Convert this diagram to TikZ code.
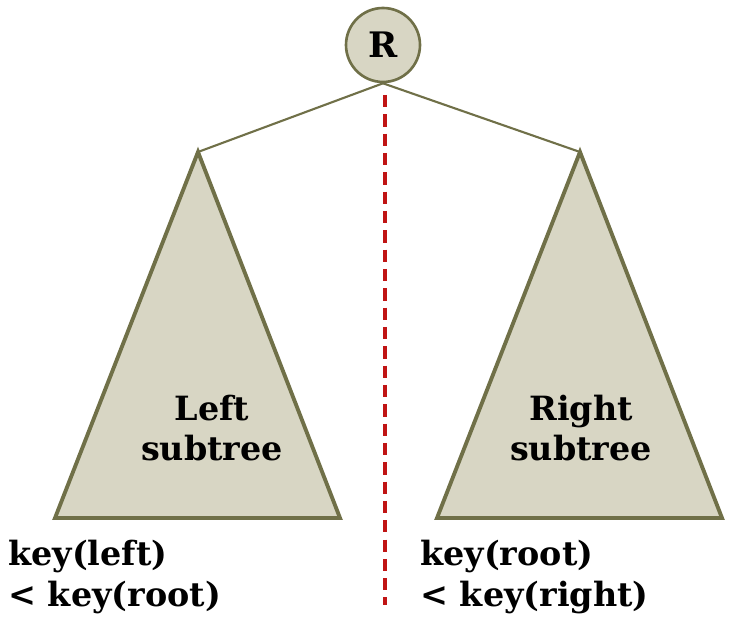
\documentclass[tikz,border=0pt]{standalone}
\usepackage{fontspec}
\setmainfont{DejaVu Serif}
\usetikzlibrary{positioning}
\definecolor{treefill}{RGB}{216, 214, 196}
\definecolor{treeline}{RGB}{112, 112, 72}
\definecolor{splitred}{RGB}{192, 20, 20}
\tikzset{
  subtree/.style={draw=treeline, fill=treefill, line width=2.2pt, line join=miter},
  label/.style={font=\bfseries\fontsize{19}{23}\selectfont, align=left, anchor=north west, inner sep=0pt},
  inlabel/.style={font=\bfseries\fontsize{19}{23}\selectfont, align=center}
}
\begin{document}
\begin{tikzpicture}[x=0.02cm, y=-0.02cm]
\useasboundingbox (0,0) rectangle (743,644);
% split line
\draw[splitred, line width=1.8pt, dash pattern=on 7pt off 4pt] (385,95) -- (385,605);
% root
\node[circle, draw=treeline, fill=treefill, line width=1.5pt, minimum size=1.48cm,
      font=\bfseries\fontsize{20}{24}\selectfont] (root) at (383,45) {R};
\coordinate (ltop) at (198,152);
\coordinate (rtop) at (580,152);
\draw[treeline, line width=1.2pt] (root.south) -- (ltop);
\draw[treeline, line width=1.2pt] (root.south) -- (rtop);
% subtrees
\draw[subtree] (ltop) -- (55,518) -- (340,518) -- cycle;
\draw[subtree] (rtop) -- (437,518) -- (722,518) -- cycle;
\node[inlabel] (lname) at (212,428) {Left\\subtree};
\node[inlabel] (rname) at (581,428) {Right\\subtree};
% keys
\node[label] (lkey) at (8,540) {key(left)\\< key(root)};
\node[label] (rkey) at (420,540) {key(root)\\< key(right)};
\end{tikzpicture}
\end{document}
